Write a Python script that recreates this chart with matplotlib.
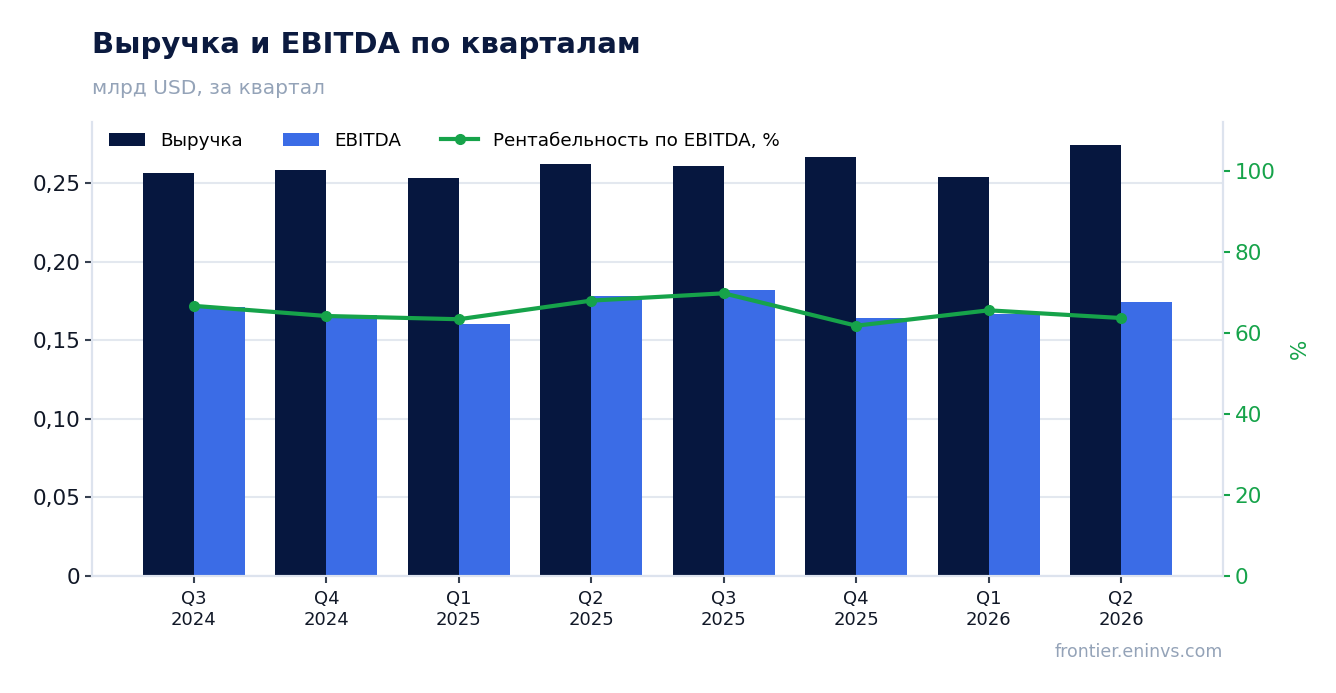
import numpy as np
import matplotlib
matplotlib.use("Agg")
import matplotlib.pyplot as plt
from matplotlib.ticker import FuncFormatter

# Данные по кварталам
quarters = ["Q3\n2024", "Q4\n2024", "Q1\n2025", "Q2\n2025",
            "Q3\n2025", "Q4\n2025", "Q1\n2026", "Q2\n2026"]
revenue = [0.2564, 0.2583, 0.2532, 0.2621, 0.2608, 0.2665, 0.2538, 0.2742]
ebitda = [0.1710, 0.1660, 0.1603, 0.1782, 0.1822, 0.1642, 0.1665, 0.1745]
margin = [66.7, 64.2, 63.4, 68.0, 69.8, 61.8, 65.6, 63.7]

navy = "#06173F"
blue = "#3B6CE6"
green = "#16A34A"
grid_c = "#E3E8EF"

plt.rcParams["font.family"] = ["DejaVu Sans"]

fig = plt.figure(figsize=(13.36, 6.93), dpi=100)
ax = fig.add_axes([92 / 1336, 1 - 576 / 693, (1223 - 92) / 1336, (576 - 122) / 693])
x = np.arange(len(quarters))
w = 0.385

ax.bar(x - w / 2, revenue, w, color=navy, label="Выручка", zorder=2)
ax.bar(x + w / 2, ebitda, w, color=blue, label="EBITDA", zorder=2)

ax2 = ax.twinx()
ln, = ax2.plot(x, margin, color=green, lw=3, marker="o", ms=7,
               label="Рентабельность по EBITDA, %", zorder=3)

ax.set_xlim(-0.77, 7.77)
ax.set_ylim(0, 0.2888)
ax2.set_ylim(0, 112.1)
ax.set_yticks([0, 0.05, 0.10, 0.15, 0.20, 0.25])
ax.yaxis.set_major_formatter(FuncFormatter(
    lambda v, p: "0" if v == 0 else f"{v:.2f}".replace(".", ",")))
ax2.set_yticks([0, 20, 40, 60, 80, 100])

ax.set_xticks(x)
ax.set_xticklabels(quarters, fontsize=13, color="#111827")
ax.tick_params(axis="y", labelsize=15.5, colors="#111827", length=5, width=1.5)
ax.tick_params(axis="x", length=5, width=1.5, color="#374151", pad=5)
ax2.tick_params(axis="y", labelsize=15.5, colors=green, length=5, width=1.5)
ax.tick_params(axis="y", color="#374151")

ax.grid(axis="y", color=grid_c, lw=1.5, zorder=0)
ax.set_axisbelow(True)
for a in (ax, ax2):
    a.spines["top"].set_visible(False)
    for s in ("left", "right", "bottom"):
        a.spines[s].set_color("#DDE3EE")
        a.spines[s].set_linewidth(1.5)

ax2.set_ylabel("%", color=green, fontsize=15.5, labelpad=10)

h1, l1 = ax.get_legend_handles_labels()
ax.legend(h1 + [ln], l1 + [ln.get_label()], loc="upper left", ncol=3,
          frameon=False, fontsize=13.2, bbox_to_anchor=(0.0, 1.015),
          handlelength=2.0, columnspacing=2.2)

fig.text(92 / 1336, 1 - 45 / 693, "Выручка и EBITDA по кварталам",
         fontsize=21, fontweight="bold", color="#0B1A3F", va="center")
fig.text(92 / 1336, 1 - 88 / 693, "млрд USD, за квартал",
         fontsize=14.5, color="#94A3B8", va="center")
fig.text(1223 / 1336, 1 - 652 / 693, "frontier.eninvs.com",
         fontsize=12.5, color="#94A3B8", ha="right", va="center")

fig.savefig("out.png", dpi=100)
